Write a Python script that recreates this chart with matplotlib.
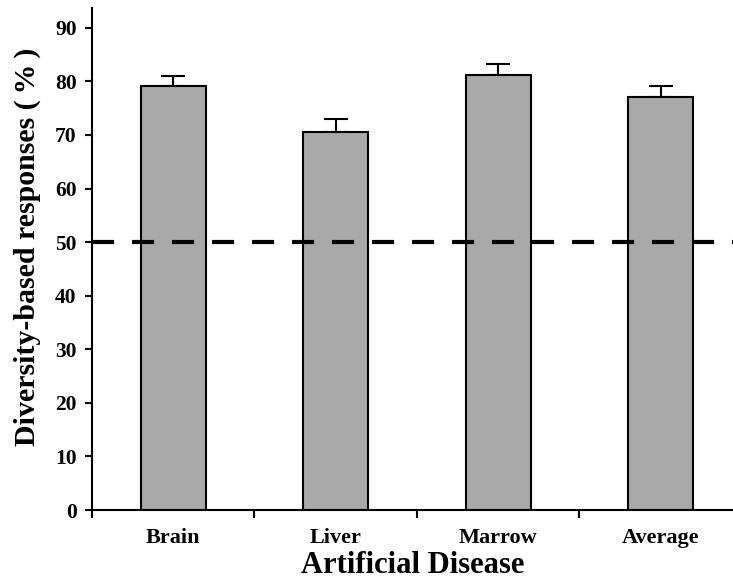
import matplotlib
matplotlib.use("Agg")
import matplotlib.pyplot as plt
import numpy as np

categories = ["Brain", "Liver", "Marrow", "Average"]
values = [79.2, 70.5, 81.2, 77.1]
errors = [1.9, 2.4, 2.1, 2.1]
chance = 50

plt.rcParams['font.family'] = ['Liberation Serif', 'DejaVu Serif']
plt.rcParams['font.weight'] = 'bold'

fig = plt.figure(figsize=(7.33, 5.82), dpi=100)
ax = fig.add_axes([92/733, 72/582, 1 - 92/733, (510 - 8)/582])

x = np.arange(len(categories))
ax.bar(x, values, width=0.4, color='#a9a9a9', edgecolor='black', linewidth=1.5, zorder=2)
ax.errorbar(x, values, yerr=[np.zeros(len(errors)), errors], fmt='none', ecolor='black',
            elinewidth=1.5, capsize=8.5, capthick=1.5, zorder=1)
ax.axhline(chance, color='black', linestyle=(0, (5.3, 4.3)), linewidth=3, zorder=3)

ax.set_xlim(-0.5, 3.445)
ax.set_ylim(0, 93.7)
ax.set_yticks(np.arange(0, 91, 10))
ax.set_xticks(x)
ax.set_xticklabels(categories, fontsize=16, fontweight='bold')
ax.set_xticks(np.arange(-0.5, 3.0, 1.0), minor=True)
ax.tick_params(axis='x', which='major', length=0, pad=13)
ax.tick_params(axis='x', which='minor', length=6, width=1.5, direction='out')
ax.tick_params(axis='y', length=5, width=1.5, labelsize=15.5, pad=6)
for lab in ax.get_yticklabels():
    lab.set_fontweight('bold')

for s in ['top', 'right']:
    ax.spines[s].set_visible(False)
for s in ['left', 'bottom']:
    ax.spines[s].set_linewidth(1.5)

ax.set_xlabel("Artificial Disease", fontsize=22, fontweight='bold', labelpad=2)
ax.set_ylabel("Diversity-based responses (\u2009%\u2009)", fontsize=21.5, fontweight='bold', labelpad=10)
ax.yaxis.label.set_y(0.525)

fig.savefig("out.png", dpi=100)
